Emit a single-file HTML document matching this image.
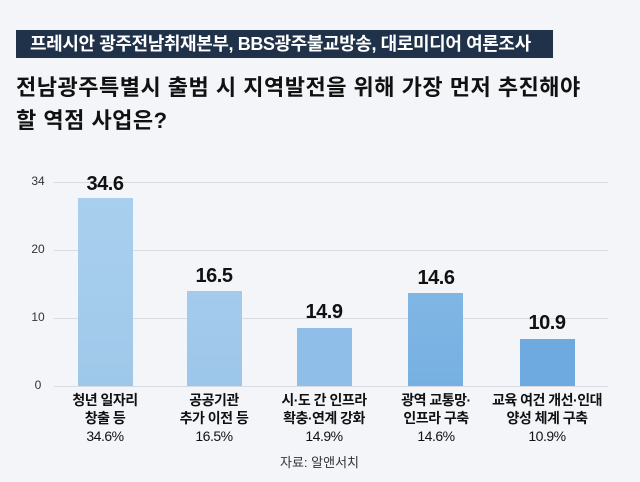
<!DOCTYPE html>
<html><head><meta charset="utf-8"><style>
body{margin:0;width:640px;height:482px;background:#f3f5f8;overflow:hidden;font-family:"Liberation Sans","Noto Sans CJK KR",sans-serif;position:relative}
.a{position:absolute}
.banner{left:16px;top:30px;width:537px;height:28px;background:#1f3249;color:#fff;font-size:18px;font-weight:bold;line-height:28px;letter-spacing:-0.4px;text-indent:14px;white-space:nowrap}
.t{left:16px;font-size:22px;font-weight:bold;color:#111;white-space:nowrap;letter-spacing:0.5px}
.g{left:54px;width:554px;height:1px;background:#d8dce2}
.yl{left:28px;width:20px;font-size:12px;color:#333;text-align:center}
.bar{width:55px;bottom:96px}
.v{width:80px;text-align:center;font-size:20px;font-weight:bold;color:#111;letter-spacing:-0.5px}
.c{width:130px;text-align:center;font-size:14px;line-height:18px;color:#111;letter-spacing:-0.5px}
.c b{font-weight:bold}
</style></head><body>
<div class="a banner">프레시안 광주전남취재본부, BBS광주불교방송, 대로미디어 여론조사</div>
<div class="a t" style="top:70px">전남광주특별시 출범 시 지역발전을 위해 가장 먼저 추진해야</div>
<div class="a t" style="top:103px">할 역점 사업은?</div>
<div class="a g" style="top:182px"></div>
<div class="a g" style="top:250px"></div>
<div class="a g" style="top:318px"></div>
<div class="a g" style="top:386px"></div>
<div class="a yl" style="top:174px">34</div>
<div class="a yl" style="top:242px">20</div>
<div class="a yl" style="top:310px">10</div>
<div class="a yl" style="top:378px">0</div>
<div class="a bar" style="left:78px;top:198px;height:188px;background:linear-gradient(#a9cfee,#9ec8ea)"></div>
<div class="a bar" style="left:187px;top:291px;height:95px;background:linear-gradient(#a4cbec,#9cc6ea)"></div>
<div class="a bar" style="left:297px;top:328px;height:58px;background:#8fbfe8"></div>
<div class="a bar" style="left:408px;top:293px;height:93px;background:linear-gradient(#80b6e4,#76b0e2)"></div>
<div class="a bar" style="left:520px;top:339px;height:47px;background:#6eaae0"></div>
<div class="a v" style="left:65px;top:173px">34.6</div>
<div class="a v" style="left:174px;top:265px">16.5</div>
<div class="a v" style="left:284px;top:301px">14.9</div>
<div class="a v" style="left:396px;top:267px">14.6</div>
<div class="a v" style="left:507px;top:312px">10.9</div>
<div class="a c" style="left:40px;top:391px"><b>청년 일자리<br>창출 등</b><br>34.6%</div>
<div class="a c" style="left:149px;top:391px"><b>공공기관<br>추가 이전 등</b><br>16.5%</div>
<div class="a c" style="left:259px;top:391px"><b>시·도 간 인프라<br>확충·연계 강화</b><br>14.9%</div>
<div class="a c" style="left:371px;top:391px"><b>광역 교통망·<br>인프라 구축</b><br>14.6%</div>
<div class="a c" style="left:482px;top:391px"><b>교육 여건 개선·인대<br>양성 체계 구축</b><br>10.9%</div>
<div class="a" style="left:280px;top:452px;font-size:13px;color:#333">자료: 알앤서치</div>
</body></html>
